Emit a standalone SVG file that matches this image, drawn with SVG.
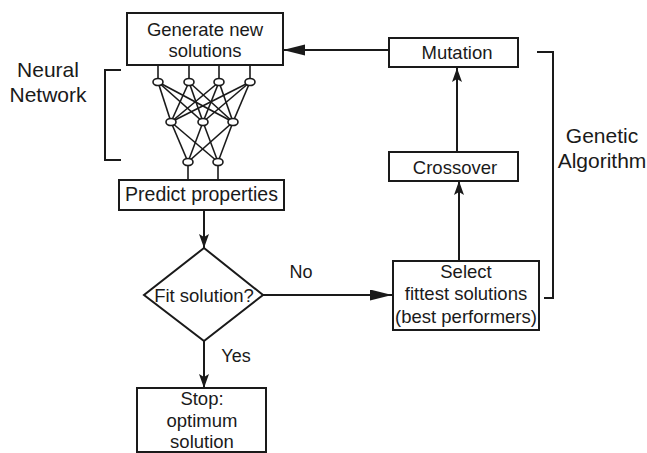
<svg xmlns="http://www.w3.org/2000/svg" width="647" height="453" viewBox="0 0 647 453">
<style>
.box{fill:#fff;stroke:#1a1a1a;stroke-width:2}
.ln{fill:none;stroke:#1a1a1a;stroke-width:2}
.nn{fill:none;stroke:#1a1a1a;stroke-width:1.6}
.nd{fill:#fff;stroke:#1a1a1a;stroke-width:1.6}
.t{font-family:"Liberation Sans",Arial,sans-serif;font-size:18.5px;fill:#1a1a1a;text-anchor:middle}
.lb{font-family:"Liberation Sans",Arial,sans-serif;font-size:21px;fill:#1a1a1a;text-anchor:middle}
.sm{font-family:"Liberation Sans",Arial,sans-serif;font-size:18px;fill:#1a1a1a;text-anchor:middle}
</style>
<defs>
<marker id="aL" markerUnits="userSpaceOnUse" markerWidth="24" markerHeight="12" refX="22" refY="5.5" orient="auto">
<path d="M0,0 L22,5.5 L0,11 Z" fill="#1a1a1a"/>
</marker>
<marker id="aS" markerUnits="userSpaceOnUse" markerWidth="16" markerHeight="12" refX="14" refY="5" orient="auto">
<path d="M0,0 L14,5 L0,10 L3,5 Z" fill="#1a1a1a"/>
</marker>
</defs>

<g id="connectors">
<line class="ln" x1="389" y1="50" x2="283" y2="50" marker-end="url(#aL)"/>
<line class="ln" x1="457" y1="152" x2="457" y2="68" marker-end="url(#aS)"/>
<line class="ln" x1="459" y1="261" x2="459" y2="181" marker-end="url(#aS)"/>
<line class="ln" x1="204" y1="210" x2="204" y2="248" marker-end="url(#aS)"/>
<line class="ln" x1="263" y1="295" x2="392" y2="295" marker-end="url(#aL)"/>
<line class="ln" x1="204" y1="341" x2="204" y2="388" marker-end="url(#aS)"/>
<text class="sm" x="301" y="278">No</text>
<text class="sm" x="236" y="362">Yes</text>
</g>

<g id="generate">
<rect class="box" x="127" y="13" width="156" height="52"/>
<text class="t" x="205" y="36">Generate new</text>
<text class="t" x="205" y="57">solutions</text>
</g>

<g id="neural-network">
<g class="nn">
<line x1="158" y1="65" x2="158" y2="82"/>
<line x1="189" y1="65" x2="189" y2="82"/>
<line x1="219" y1="65" x2="219" y2="82"/>
<line x1="250" y1="65" x2="250" y2="82"/>
<line x1="158" y1="82" x2="171" y2="122"/><line x1="158" y1="82" x2="203" y2="122"/><line x1="158" y1="82" x2="233" y2="122"/>
<line x1="189" y1="82" x2="171" y2="122"/><line x1="189" y1="82" x2="203" y2="122"/><line x1="189" y1="82" x2="233" y2="122"/>
<line x1="219" y1="82" x2="171" y2="122"/><line x1="219" y1="82" x2="203" y2="122"/><line x1="219" y1="82" x2="233" y2="122"/>
<line x1="250" y1="82" x2="171" y2="122"/><line x1="250" y1="82" x2="203" y2="122"/><line x1="250" y1="82" x2="233" y2="122"/>
<line x1="171" y1="122" x2="188" y2="162"/><line x1="171" y1="122" x2="218" y2="162"/>
<line x1="203" y1="122" x2="188" y2="162"/><line x1="203" y1="122" x2="218" y2="162"/>
<line x1="233" y1="122" x2="188" y2="162"/><line x1="233" y1="122" x2="218" y2="162"/>
<line x1="188" y1="162" x2="188" y2="180"/>
<line x1="218" y1="162" x2="218" y2="180"/>
</g>
<ellipse class="nd" cx="158" cy="82" rx="5" ry="3.5"/>
<ellipse class="nd" cx="189" cy="82" rx="5" ry="3.5"/>
<ellipse class="nd" cx="219" cy="82" rx="5" ry="3.5"/>
<ellipse class="nd" cx="250" cy="82" rx="5" ry="3.5"/>
<ellipse class="nd" cx="171" cy="122" rx="5" ry="3.5"/>
<ellipse class="nd" cx="203" cy="122" rx="5" ry="3.5"/>
<ellipse class="nd" cx="233" cy="122" rx="5" ry="3.5"/>
<ellipse class="nd" cx="188" cy="162" rx="5" ry="3.5"/>
<ellipse class="nd" cx="218" cy="162" rx="5" ry="3.5"/>
<path class="ln" d="M121,70 H105 V160 H121"/>
<text class="lb" x="48" y="77">Neural</text>
<text class="lb" x="48" y="102">Network</text>
</g>

<g id="predict">
<rect class="box" x="119" y="180" width="165" height="30"/>
<text class="t" x="201.5" y="201" style="font-size:19.5px">Predict properties</text>
</g>

<g id="decision">
<path class="box" d="M204,248 L263,295 L204,341 L144,295 Z"/>
<text class="t" x="204" y="302">Fit solution?</text>
</g>

<g id="stop">
<rect class="box" x="137" y="388" width="129" height="64"/>
<text class="t" x="202" y="405">Stop:</text>
<text class="t" x="202" y="427">optimum</text>
<text class="t" x="202" y="448">solution</text>
</g>

<g id="select">
<rect class="box" x="393" y="261" width="146" height="69"/>
<text class="t" x="466" y="278">Select</text>
<text class="t" x="466" y="300">fittest solutions</text>
<text class="t" x="466" y="323">(best performers)</text>
</g>

<g id="crossover">
<rect class="box" x="389" y="152" width="129" height="29"/>
<text class="t" x="455" y="174">Crossover</text>
</g>

<g id="mutation">
<rect class="box" x="389" y="38" width="129" height="29"/>
<text class="t" x="457" y="59">Mutation</text>
</g>

<g id="genetic-algorithm">
<path class="ln" d="M537,52 H553 V298 H544"/>
<text class="lb" x="602" y="143">Genetic</text>
<text class="lb" x="602" y="168">Algorithm</text>
</g>
</svg>
